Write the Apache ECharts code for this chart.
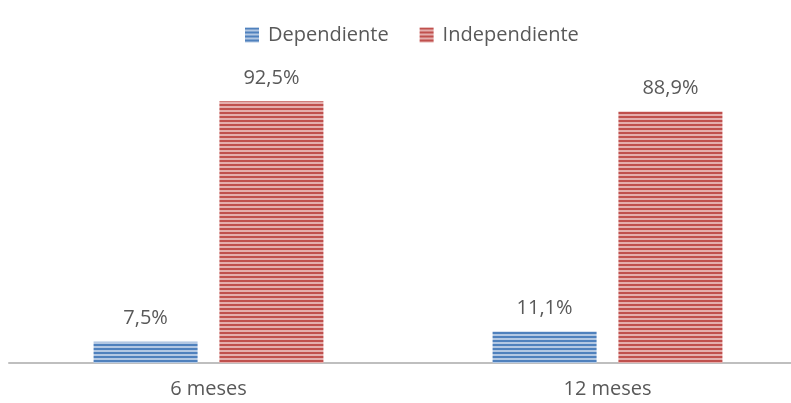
<!DOCTYPE html>
<html>
<head>
<meta charset="utf-8">
<script src="https://cdn.jsdelivr.net/npm/echarts@6/dist/echarts.min.js"></script>
<style>
  html, body { margin: 0; padding: 0; background: #fff; overflow: hidden; }
  /* el eje del original sigue más allá del borde derecho */
  #chart { width: 807px; height: 403px; }
</style>
</head>
<body>
<div id="chart"></div>
<script>
  const categories = ['6 meses', '12 meses'];
  const seriesNames = ['Dependiente', 'Independiente'];
  const dependiente = [7.5, 11.1];
  const independiente = [92.5, 88.9];

  // rayado horizontal como en el original
  function stripes(dark, light) {
    const c = document.createElement('canvas');
    c.width = 4;
    c.height = 4;
    const ctx = c.getContext('2d');
    ctx.fillStyle = light;
    ctx.fillRect(0, 0, 4, 4);
    ctx.fillStyle = dark;
    ctx.fillRect(0, 0, 4, 2);
    return { image: c, repeat: 'repeat' };
  }

  const fmt = p => p.value.toFixed(1).replace('.', ',') + '%';
  const font = '"Open Sans", sans-serif';

  function makeSeries(name, data, dark, light) {
    return {
      name: name,
      type: 'bar',
      data: data,
      barWidth: 104,
      barGap: '21%',
      itemStyle: { color: stripes(dark, light) },
      label: {
        show: true,
        position: 'top',
        distance: 13,
        formatter: fmt,
        color: '#595959',
        fontSize: 20,
        fontFamily: font
      }
    };
  }

  const chart = echarts.init(document.getElementById('chart'));
  chart.setOption({
    animation: false,
    legend: {
      left: 240,
      top: 20,
      icon: 'rect',
      itemWidth: 14,
      itemHeight: 15,
      itemGap: 31,
      textStyle: { color: '#595959', fontSize: 20, fontFamily: font, padding: [0, 0, 0, 4] },
      data: seriesNames
    },
    grid: { left: 9, right: 0, top: 80, bottom: 40 },
    xAxis: {
      type: 'category',
      data: categories,
      axisTick: { show: false },
      axisLine: { lineStyle: { color: '#BFBFBF', width: 2 } },
      axisLabel: { color: '#595959', fontSize: 20, fontFamily: font, margin: 16 }
    },
    yAxis: {
      type: 'value',
      min: 0,
      max: 100,
      show: false
    },
    series: [
      makeSeries(seriesNames[0], dependiente, '#4F81BD', '#B3C8E3'),
      makeSeries(seriesNames[1], independiente, '#C0504D', '#E4AEAD')
    ]
  });
</script>
</body>
</html>
